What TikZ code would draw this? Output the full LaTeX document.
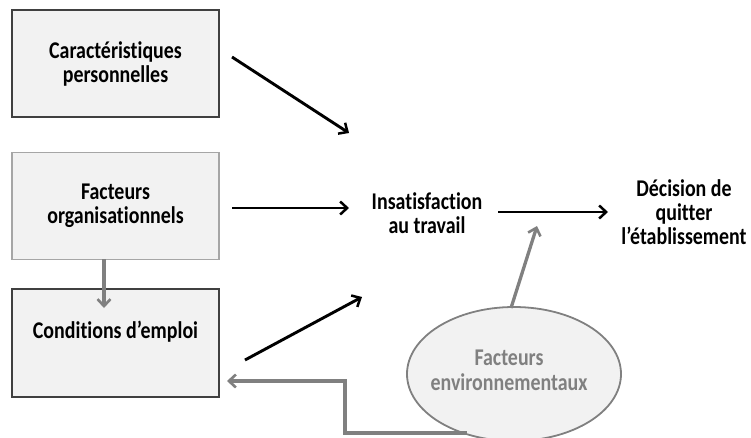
\documentclass[tikz,border=0pt]{standalone}
\usepackage{fontspec}
\setmainfont{Carlito}[Ligatures=NoCommon, FakeStretch=0.83]
\usetikzlibrary{arrows.meta,shapes.geometric}
\definecolor{boxfill}{HTML}{F2F2F2}
\definecolor{darkedge}{HTML}{404040}
\definecolor{lightedge}{HTML}{A6A6A6}
\definecolor{grayarrow}{HTML}{808080}
\definecolor{graytext}{HTML}{808080}
\tikzset{
  boxnode/.style={draw=darkedge, fill=boxfill, line width=1.2pt, minimum width=207pt, minimum height=107pt, inner sep=0pt, align=center},
  txt/.style={align=center, inner sep=0pt},
  blackarrow/.style={draw=black, line width=2.9pt, -{Straight Barb[length=7pt,width=13pt,line width=2.5pt]}},
  grayarr/.style={draw=grayarrow, line width=3.3pt, -{Straight Barb[length=7pt,width=13pt,line width=2.6pt]}},
}
\begin{document}
\begin{tikzpicture}[x=1pt,y=-1pt, font=\fontsize{24}{24}\selectfont\bfseries]
\useasboundingbox (0,0) rectangle (751,437);
% boxes
\node[boxnode] (b1) at (115.5,63.5) {Caractéristiques\\personnelles};
\node[boxnode, draw=lightedge] (b2) at (115.5,206) {Facteurs\\organisationnels};
\node[boxnode, minimum height=108pt, label={[txt, yshift=11pt]center:Conditions d’emploi}] (b3) at (115.5,343) {};
% central texts
\node[txt] (ins) at (427,213) {Insatisfaction\\au travail};
\node[txt] (dec) at (684,212) {Décision de\\quitter\\l’établissement};
% ellipse
\node[ellipse, draw=grayarrow, fill=boxfill, line width=1.8pt, minimum width=214pt, minimum height=134pt, inner sep=0pt] (env) at (514,374) {};
\node[txt, text=graytext, font=\fontsize{24}{25}\selectfont\bfseries] (envtxt) at (509,370) {Facteurs\\environnementaux};
% arrow end coordinates
\coordinate (a1s) at (232,57);
\coordinate (a1e) at (349,133);
\coordinate (a2s) at (232,208);
\coordinate (a2e) at (349,208);
\coordinate (a3s) at (245,360);
\coordinate (a3e) at (362,297);
\coordinate (a4s) at (498,212);
\coordinate (a4e) at (608,212);
\coordinate (a5s) at (511,308);
\coordinate (a5e) at (537,226);
\coordinate (a6s) at (104,259);
\coordinate (a6e) at (104,308);
\coordinate (e1) at (467,433);
\coordinate (e2) at (345,433);
\coordinate (e3) at (345,381);
\coordinate (e4) at (227,381);
% arrows
\draw[blackarrow] (a1s) -- (a1e);
\draw[blackarrow] (a2s) -- (a2e);
\draw[blackarrow] (a3s) -- (a3e);
\draw[blackarrow] (a4s) -- (a4e);
\draw[grayarr] (a5s) -- (a5e);
\draw[grayarr] (a6s) -- (a6e);
\draw[grayarr] (e1) -- (e2) -- (e3) -- (e4);
\end{tikzpicture}
\end{document}
